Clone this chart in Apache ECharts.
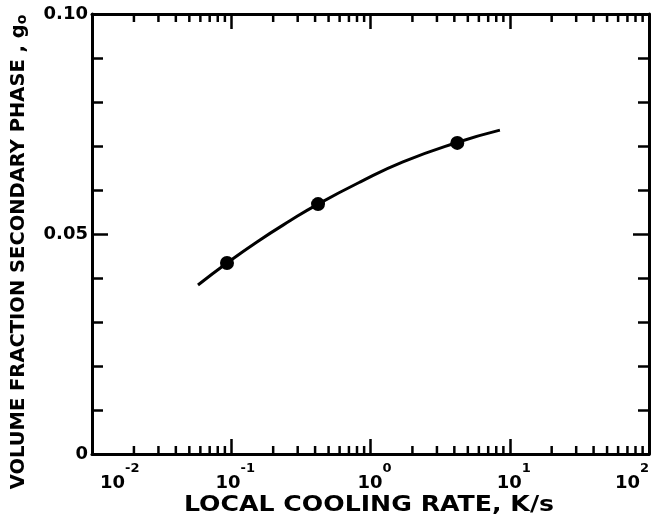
<!DOCTYPE html>
<html>
<head>
<meta charset="utf-8">
<script src="https://cdn.jsdelivr.net/npm/echarts@6/dist/echarts.min.js"></script>
<style>
  html, body { margin: 0; padding: 0; background: #fff; }
</style>
</head>
<body>
<div id="chart" style="width:652px;height:523px;"></div>
<script>
// 读图得到的数据
const curveX = [0.0577, 0.0932, 0.153, 0.264, 0.42, 0.84, 1.71, 4.18, 8.5]
const curveY = [0.0384, 0.0434, 0.0482, 0.0530, 0.0568, 0.0618, 0.0664, 0.0708, 0.0736]
const pointX = [0.0932, 0.42, 4.2]
const pointY = [0.0434, 0.0568, 0.0707]
const yTickLabels = { 0: '0', 0.05: '0.05', 0.1: '0.10' }
const decades = [-2, -1, 0, 1]
const minorSteps = [2, 3, 4, 5, 6, 7, 8, 9]

// 对数轴的次刻度 2..9
const minorTicks = []
decades.forEach(d => minorSteps.forEach(m => minorTicks.push([m * Math.pow(10, d), 0])))

const FONT = 'DejaVu Sans'
const black = '#000'

const axisLine = { show: true, onZero: false, lineStyle: { color: black, width: 3 } }

const xBase = {
  type: 'log',
  logBase: 10,
  min: 0.01,
  max: 100,
  axisLine: axisLine,
  axisTick: { show: true, inside: true, length: 15, lineStyle: { color: black, width: 2.5 } },
  splitLine: { show: false }
}

const yBase = {
  type: 'value',
  min: 0,
  max: 0.1,
  interval: 0.05,
  axisLine: axisLine,
  axisTick: { show: true, inside: true, length: 16, lineStyle: { color: black, width: 2.5 } },
  minorTick: { show: true, splitNumber: 5, length: 11, lineStyle: { color: black, width: 2.5 } },
  splitLine: { show: false },
  minorSplitLine: { show: false }
}

const option = {
  backgroundColor: '#fff',
  animation: false,
  grid: { left: 92, right: 3, top: 14, bottom: 69, outerBoundsMode: 'none', containLabel: false },
  // 坐标轴标题用 graphic 画，字形较宽
  graphic: [
    {
      type: 'text',
      x: 369,
      y: 506,
      scaleX: 1.2,
      style: {
        text: 'LOCAL COOLING RATE, K/s',
        align: 'center',
        verticalAlign: 'middle',
        fill: black,
        font: 'bold 21px "DejaVu Sans"'
      }
    },
    {
      type: 'text',
      x: 19,
      y: 252,
      rotation: Math.PI / 2,
      style: {
        text: '{a|VOLUME FRACTION SECONDARY PHASE , g}{o|o}',
        align: 'center',
        verticalAlign: 'middle',
        rich: {
          a: { fill: black, fontFamily: FONT, fontWeight: 'bold', fontSize: 19.5 },
          o: { fill: black, fontFamily: FONT, fontWeight: 'bold', fontSize: 14, verticalAlign: 'bottom' }
        }
      }
    }
  ],
  xAxis: [
    {
      ...xBase,
      position: 'bottom',
      axisLabel: {
        show: true,
        margin: 8,
        alignMinLabel: 'left',
        alignMaxLabel: 'right',
        formatter: v => '{b|10}{e|' + Math.round(Math.log10(v)) + '}',
        rich: {
          b: { color: black, fontFamily: FONT, fontWeight: 'bold', fontSize: 18, verticalAlign: 'bottom', padding: [12, 0, 0, 8] },
          e: { color: black, fontFamily: FONT, fontWeight: 'bold', fontSize: 13, verticalAlign: 'top' }
        }
      }
    },
    {
      ...xBase,
      position: 'top',
      axisLabel: { show: false }
    }
  ],
  yAxis: [
    {
      ...yBase,
      position: 'left',
      axisLabel: {
        show: true,
        margin: 4,
        color: black,
        fontFamily: FONT,
        fontWeight: 'bold',
        fontSize: 18,
        formatter: v => yTickLabels[Math.round(v * 100) / 100] || ''
      }
    },
    {
      ...yBase,
      position: 'right',
      axisLabel: { show: false }
    }
  ],
  series: [
    {
      // 次刻度线（上下两边）
      type: 'custom',
      xAxisIndex: 0,
      yAxisIndex: 0,
      silent: true,
      data: minorTicks,
      renderItem: function (params, api) {
        const v = api.value(0)
        const pb = api.coord([v, 0])
        const pt = api.coord([v, 0.1])
        const style = { stroke: black, lineWidth: 2.5 }
        return {
          type: 'group',
          children: [
            { type: 'line', shape: { x1: pb[0], y1: pb[1], x2: pb[0], y2: pb[1] - 8 }, style: style },
            { type: 'line', shape: { x1: pt[0], y1: pt[1], x2: pt[0], y2: pt[1] + 8 }, style: style }
          ]
        }
      }
    },
    {
      type: 'line',
      data: curveX.map((x, i) => [x, curveY[i]]),
      smooth: 0.5,
      showSymbol: false,
      silent: true,
      lineStyle: { color: black, width: 3 }
    },
    {
      type: 'scatter',
      data: pointX.map((x, i) => [x, pointY[i]]),
      symbol: 'circle',
      symbolSize: 14,
      itemStyle: { color: black, opacity: 1 },
      z: 5
    }
  ]
}

const myChart = echarts.init(document.getElementById('chart'), null, { renderer: 'canvas' })
myChart.setOption(option, true)
</script>
</body>
</html>
